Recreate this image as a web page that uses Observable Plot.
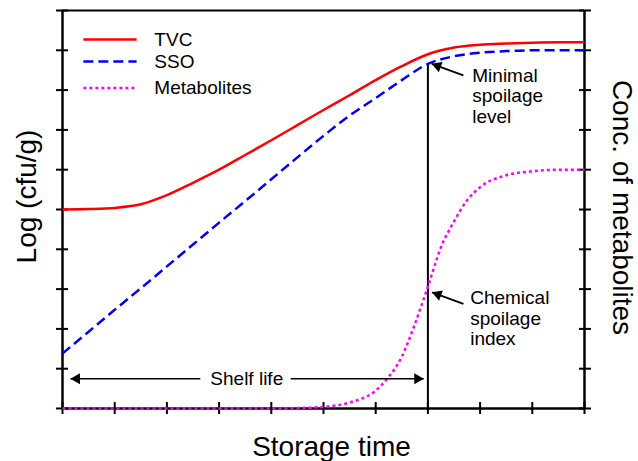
<!DOCTYPE html>
<html><head><meta charset="utf-8">
<script src="https://cdn.jsdelivr.net/npm/d3@7"></script>
<script src="https://cdn.jsdelivr.net/npm/@observablehq/plot@0.6"></script>
<style>body{margin:0;background:#fff} #chart{width:638px;height:461px}</style>
</head><body><div id="chart"></div>
<script>
// ---- data ----
const time = [0,0.5,1,1.5,2,2.5,3,3.5,4,4.5,5,5.5,6,6.5,7,7.5,8,8.5,9,9.5,10];
const tvc  = [5.0,5.01,5.04,5.13,5.36,5.67,6.0,6.37,6.74,7.12,7.5,7.87,8.25,8.6,8.9,9.07,9.14,9.17,9.19,9.2,9.2];
const sso  = [1.38,1.93,2.48,3.02,3.57,4.12,4.67,5.21,5.76,6.31,6.85,7.36,7.8,8.25,8.66,8.85,8.94,8.98,9.0,9.0,9.0];
const metabTime = [0,1,2,3,4,4.5,5,5.5,6,6.25,6.5,6.75,7,7.25,7.5,7.75,8,8.5,9,9.5,10];
const metab     = [0,0,0,0,0,0.01,0.04,0.15,0.45,0.8,1.3,2.12,3.06,4.05,4.7,5.23,5.56,5.86,5.96,6.0,6.0];
const seriesNames = ["TVC","SSO","Metabolites"];
const tickValues = [0,1,2,3,4,5,6,7,8,9,10];
const shelfLifeTime = 7;
const xTitle = "Storage time";
const yTitle = "Log (cfu/g)";
const y2Title = "Conc. of metabolites";
const noteMin = "Minimal\nspoilage\nlevel";
const noteChem = "Chemical\nspoilage\nindex";
const noteShelf = "Shelf life";

// ---- styles ----
const colors = ["#ff0000","#0000ff","#ff00ff"];
const dashes = [null,"10,5","3,3"];
const font = "'Liberation Sans', Arial, sans-serif";

const tvcData = time.map((t,i)=>({t, v:tvc[i]}));
const ssoData = time.map((t,i)=>({t, v:sso[i]}));
const metData = metabTime.map((t,i)=>({t, v:metab[i]}));
const ssoAtShelf = sso[time.indexOf(shelfLifeTime)];

// legend layout (data coords)
const legX1 = 0.4, legX2 = 1.42, legTX = 1.76;
const legY = [9.27, 8.72, 8.05];
const legend = seriesNames.map((n,i)=>({n, i, y: legY[i]}));

const triR = 4.1;
const lineMark = (data, i) => Plot.line(data, {x:"t", y:"v", stroke: colors[i], strokeWidth: 2.5,
  strokeDasharray: dashes[i], curve: "monotone-x", strokeLinecap: "butt"});

const chart = Plot.plot({
  width: 638, height: 461,
  marginLeft: 62, marginRight: 54, marginTop: 10, marginBottom: 53,
  x: {domain: [0,10]},
  y: {domain: [0,10]},
  style: {fontFamily: font, background: "white", overflow: "visible", color: "black"},
  marks: [
    Plot.axisX({ticks: tickValues, tickSize: 12, dy: -6, tickFormat: () => "", label: null, strokeWidth: 2}),
    Plot.axisY({anchor: "left", ticks: tickValues, tickSize: 12, dx: 6, tickFormat: () => "", label: null, strokeWidth: 2}),
    Plot.axisY({anchor: "right", ticks: tickValues, tickSize: 12, dx: -6, tickFormat: () => "", label: null, strokeWidth: 2}),
    Plot.ruleY([0], {strokeWidth: 2.5}),
    Plot.ruleY([10], {strokeWidth: 2}),
    Plot.ruleX([0], {strokeWidth: 2.5}),
    Plot.ruleX([10], {strokeWidth: 2.5}),
    // shelf life vertical line
    Plot.ruleX([shelfLifeTime], {y1: 0, y2: ssoAtShelf, strokeWidth: 2}),
    // curves
    lineMark(tvcData, 0),
    lineMark(ssoData, 1),
    lineMark(metData, 2),
    // legend
    ...legend.map(d => Plot.link([d], {x1: legX1, x2: legX2, y1: "y", y2: "y", stroke: colors[d.i],
      strokeWidth: 2.5, strokeDasharray: dashes[d.i]})),
    Plot.text(legend, {x: legTX, y: "y", text: "n", textAnchor: "start", lineAnchor: "middle", fontSize: 19, fill: "black"}),
    // shelf life arrow
    Plot.link([{a:0.153,b:2.64},{a:4.37,b:6.92}], {x1: "a", x2: "b", y1: 0.746, y2: 0.746, strokeWidth: 1.6}),
    Plot.dot([{x:0.153}], {x: "x", y: 0.746, symbol: "triangle", r: triR, fill: "black", stroke: "none", rotate: -90, dx: 6.3}),
    Plot.dot([{x:6.92}], {x: "x", y: 0.746, symbol: "triangle", r: triR, fill: "black", stroke: "none", rotate: 90, dx: -6.3}),
    Plot.text([noteShelf], {x: 3.53, y: 0.746, textAnchor: "middle", lineAnchor: "middle", fontSize: 19}),
    // annotation arrows
    Plot.link([{x1:7.68,y1:8.37,x2:7.075,y2:8.66},{x1:7.68,y1:2.63,x2:7.08,y2:2.92}],
      {x1:"x1", y1:"y1", x2:"x2", y2:"y2", strokeWidth: 1.8}),
    Plot.dot([{x:7.075,y:8.66},{x:7.08,y:2.92}], {x:"x", y:"y", symbol:"triangle", r: triR, fill:"black", stroke:"none", rotate: -69.7, dx: 5.9, dy: 2.2}),
    Plot.text([noteMin], {x: 7.85, y: 8.58, textAnchor: "start", lineAnchor: "top", fontSize: 19, lineHeight: 1.08}),
    Plot.text([noteChem], {x: 7.81, y: 2.98, textAnchor: "start", lineAnchor: "top", fontSize: 19, lineHeight: 1.08}),
    // axis titles
    Plot.text([xTitle], {frameAnchor: "bottom", textAnchor: "middle", dx: 8, dy: 47, lineAnchor: "bottom", fontSize: 28}),
    Plot.text([yTitle], {frameAnchor: "left", textAnchor: "middle", rotate: -90, dx: -35, dy: -13, lineAnchor: "middle", fontSize: 28}),
    Plot.text([y2Title], {frameAnchor: "right", textAnchor: "middle", rotate: 90, dx: 37, dy: -2, lineAnchor: "middle", fontSize: 28})
  ]
});
document.getElementById("chart").appendChild(chart);
</script>
</body></html>
